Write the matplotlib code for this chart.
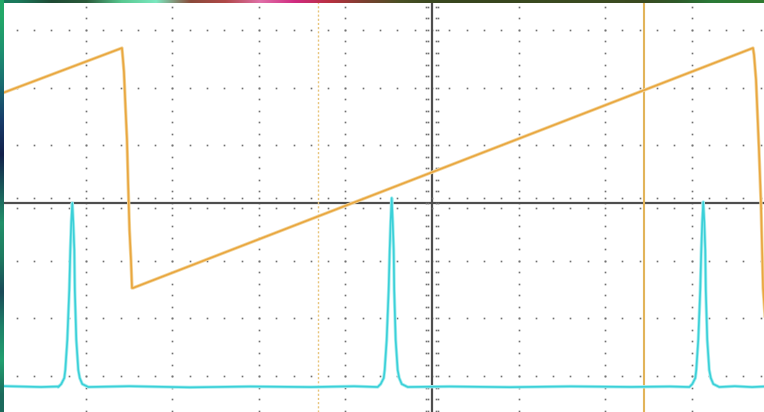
import numpy as np
import matplotlib.pyplot as plt
from matplotlib.colors import to_rgb

# screen units: divisions (x: time/div, y: volts/div), centre of screen = (0, 0)
X_LEFT, X_RIGHT = -4.994, 3.838
Y_BOTTOM, Y_TOP = -3.622, 3.518

# channel 1 (orange sawtooth) vertices
ch1_t = [-4.994, -3.584, -3.572, -3.561, -3.543, -3.526, -3.514, -3.497, -3.480,
         -3.468, -3.457, 3.711, 3.723, 3.746, 3.780, 3.803, 3.827, 3.861]
ch1_v = [1.889, 2.686, 2.478, 2.270, 1.646, 1.092, 0.399, -0.468, -0.988,
         -1.473, -1.473, 2.686, 2.565, 2.132, 0.919, 0.0, -1.473, -2.201]

# channel 2 (cyan pulses) vertices
ch2_t = [-4.994, -4.520, -4.320,
         -4.320, -4.286, -4.251, -4.239, -4.216, -4.193, -4.181, -4.170, -4.158,
         -4.147, -4.135, -4.129, -4.112, -4.089, -4.072, -4.043, -3.973,
         -3.500, -2.800, -2.100, -1.400, -0.900,
         -0.628, -0.593, -0.558, -0.547, -0.524, -0.501, -0.489, -0.478, -0.466,
         -0.454, -0.443, -0.437, -0.420, -0.397, -0.379, -0.350, -0.281,
         0.200, 0.900, 1.600, 2.300, 2.750,
         2.975, 3.009, 3.044, 3.055, 3.078, 3.101, 3.113, 3.124, 3.136,
         3.148, 3.159, 3.165, 3.182, 3.205, 3.223, 3.252, 3.321,
         3.500, 3.700, 3.838]
ch2_v = [-3.172, -3.189, -3.180,
         -3.189, -3.137, -3.033, -2.894, -2.374, -1.508, -0.815, -0.329, 0.0,
         -0.329, -0.815, -1.508, -2.374, -2.894, -3.033, -3.137, -3.189,
         -3.175, -3.195, -3.180, -3.190, -3.176,
         -3.189, -3.137, -3.033, -2.894, -2.374, -1.508, -0.815, -0.329, 0.087,
         -0.329, -0.815, -1.508, -2.374, -2.894, -3.033, -3.137, -3.189,
         -3.180, -3.192, -3.178, -3.188, -3.180,
         -3.189, -3.137, -3.033, -2.894, -2.374, -1.508, -0.815, -0.329, 0.017,
         -0.329, -0.815, -1.508, -2.374, -2.894, -3.033, -3.137, -3.189,
         -3.175, -3.190, -3.180]

# cursors
cursor_a = -1.318
cursor_b = 2.451

# colour strips left over from the screenshot crop
top_strip = ["#1b7a5c", "#1f4a34", "#2a5a3a", "#58c890", "#7be8c0", "#8a4a3a",
             "#b04848", "#e070a8", "#d02a80", "#b83040", "#7a4030", "#4a5024",
             "#3a4820", "#38461e", "#38461e", "#3a4a20", "#3a4a20", "#3c4c22",
             "#3a4a20", "#2e5a2a", "#2a7a38", "#307a30"]
left_strip = ["#22a868", "#1e9070", "#1a6a70", "#183c6a", "#12204a", "#1a5a5a",
              "#22906a", "#1e7a60", "#1a4a58", "#1e8068", "#22a070", "#1c6a5c"]

GRID = "#707070"
AXIS = "#4e4e4e"

fig = plt.figure(figsize=(7.64, 4.12), dpi=100)
ax = fig.add_axes([0, 0, 1, 1])
ax.set_xlim(X_LEFT, X_RIGHT)
ax.set_ylim(Y_BOTTOM, Y_TOP)
ax.axis("off")
fig.patch.set_facecolor("white")

# dotted graticule
minor_y = np.arange(-3.6, 3.6, 0.2)
minor_x = np.arange(-5.0, 3.9, 0.2)
for gx in [-4, -3, -2, -1, 1, 2, 3]:
    ax.plot(np.full_like(minor_y, gx), minor_y, ls="none", marker="s",
            ms=1.2, mew=0, color=GRID, zorder=1)
for gy in [-3, -2, -1, 1, 2, 3]:
    ax.plot(minor_x, np.full_like(minor_x, gy), ls="none", marker="s",
            ms=1.2, mew=0, color=GRID, zorder=1)

# centre axes with their tick marks
ax.axhline(0, color=AXIS, lw=1.6, zorder=2)
ax.axvline(0, color=AXIS, lw=1.6, zorder=2)
for dy in [-0.095, 0.095]:
    ax.plot(minor_x, np.full_like(minor_x, dy), ls="none", marker="s",
            ms=1.2, mew=0, color=GRID, zorder=2)
for dx in [-0.075, -0.045, 0.045, 0.075]:
    ax.plot(np.full_like(minor_y, dx), minor_y, ls="none", marker="s",
            ms=1.2, mew=0, color=GRID, zorder=2)

# cursors
ax.axvline(cursor_a, color="#e8c47a", lw=1.0, ls=(0, (1.5, 1.5)), zorder=3)
ax.axvline(cursor_b, color="#e2b45a", lw=1.5, zorder=3)

# traces
ax.plot(ch2_t, ch2_v, color="#a8eef0", lw=2.4, zorder=4)
ax.plot(ch2_t, ch2_v, color="#3ad0d8", lw=1.2, zorder=5)
ax.plot(ch1_t, ch1_v, color="#f3d69e", lw=2.4, zorder=6)
ax.plot(ch1_t, ch1_v, color="#e9a63e", lw=1.2, zorder=7)

# crop artefacts at the top and left edges
top_rgb = np.array([[to_rgb(c) for c in top_strip]])
ax.imshow(top_rgb, extent=(X_LEFT, X_RIGHT, Y_TOP - 0.055, Y_TOP),
          aspect="auto", interpolation="bilinear", zorder=10)
left_rgb = np.array([[to_rgb(c)] for c in left_strip])
ax.imshow(left_rgb, extent=(X_LEFT, X_LEFT + 0.035, Y_BOTTOM, Y_TOP),
          aspect="auto", interpolation="bilinear", zorder=10)

fig.savefig("out.png", dpi=100)
